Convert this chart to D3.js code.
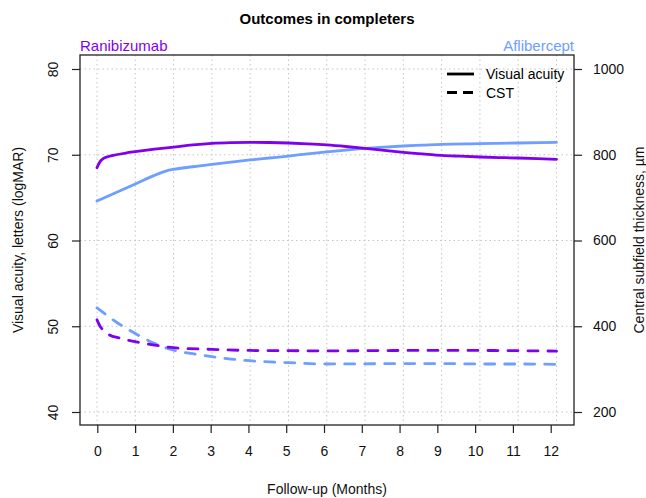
<!DOCTYPE html>
<html><head><meta charset="utf-8">
<script src="https://cdn.jsdelivr.net/npm/d3@7"></script>
<style>
body{margin:0;background:#fff;}
svg{display:block;font-family:"Liberation Sans",Arial,sans-serif;}
</style></head>
<body><svg id="c" width="646" height="498"></svg>
<script>
// ---- data ----
const monthTicks = [0,1,2,3,4,5,6,7,8,9,10,11,12];
const vaTicks = [40,50,60,70,80];
const cstTicks = [200,400,600,800,1000];

const ranVAMonths = [0,0.08,0.16,0.3,0.5,0.75,1,1.5,2,2.5,3,3.5,4,4.5,5,5.5,6,6.5,7,7.5,8,8.5,9,9.5,10,10.5,11,11.5,12];
const ranVA = [68.5,69.2,69.55,69.8,70.0,70.2,70.36,70.65,70.9,71.15,71.33,71.42,71.45,71.43,71.37,71.27,71.14,70.96,70.75,70.5,70.28,70.1,69.93,69.83,69.74,69.67,69.62,69.55,69.47];

const aflVAMonths = [0,0.5,1,1.5,1.8,2,2.5,3,3.5,4,4.5,5,5.5,6,6.5,7,7.5,8,8.5,9,10,11,12];
const aflVA = [64.6,65.6,66.6,67.6,68.1,68.3,68.6,68.89,69.15,69.39,69.62,69.85,70.1,70.33,70.55,70.75,70.9,71.02,71.12,71.22,71.29,71.37,71.45];

const ranCSTMonths = [0,0.08,0.16,0.3,0.6,1,1.5,2,3,4,5,6,7,8,9,10,11,12];
const ranCST = [415,400,391,381,372,364,356,350,346,343.5,343,342.6,343,343.5,343.5,343.5,343,342];

const aflCSTMonths = [0,0.5,1,1.5,2,2.5,3,3.5,4,5,6,7,8,9,10,11,12];
const aflCST = [443,410,383,360,344,336,329,323.5,319.6,315,312,312.4,313,313,312,312,311];

const colRan = "#7F00F0";
const colAfl = "#6E9EFF";

// ---- layout ----
const svg = d3.select("#c");
const L = 80, R = 574, T = 55, B = 425;

const xTick = d3.scaleLinear().domain([0,12]).range([97.3,550.7]);
const xData = d3.scaleLinear().domain([0,12]).range([97,556.5]);
const yL = d3.scaleLinear().domain([40,80]).range([412,69]);
const yR = d3.scaleLinear().domain([200,1000]).range([412,69]);

// grid
const grid = svg.append("g").attr("stroke","#c4c4c4").attr("stroke-width",1).attr("stroke-dasharray","1.5,3");
grid.selectAll("line.v").data(monthTicks).join("line").attr("class","v")
  .attr("x1",d=>xData(d)).attr("x2",d=>xData(d)).attr("y1",T).attr("y2",B);
grid.selectAll("line.h").data(vaTicks).join("line").attr("class","h")
  .attr("x1",L).attr("x2",R).attr("y1",d=>yL(d)).attr("y2",d=>yL(d));

// lines
const lineVA = (ms) => d3.line().x((d,i)=>xData(ms[i])).y(d=>yL(d)).curve(d3.curveMonotoneX);
const lineCST = (ms) => d3.line().x((d,i)=>xData(ms[i])).y(d=>yR(d)).curve(d3.curveMonotoneX);
const lg = svg.append("g").attr("fill","none").attr("stroke-width",2.8).attr("stroke-linecap","round").attr("stroke-linejoin","round");
lg.append("path").attr("d",lineVA(aflVAMonths)(aflVA)).attr("stroke",colAfl);
lg.append("path").attr("d",lineVA(ranVAMonths)(ranVA)).attr("stroke",colRan);
lg.append("path").attr("d",lineCST(aflCSTMonths)(aflCST)).attr("stroke",colAfl).attr("stroke-dasharray","10,10");
lg.append("path").attr("d",lineCST(ranCSTMonths)(ranCST)).attr("stroke",colRan).attr("stroke-dasharray","10,10");

// box
svg.append("rect").attr("x",L).attr("y",T).attr("width",R-L).attr("height",B-T)
  .attr("fill","none").attr("stroke","#222").attr("stroke-width",1.3);

// axes
const fs = 14;
const ax = svg.append("g").attr("transform",`translate(0,${B})`)
  .call(d3.axisBottom(xTick).tickValues(monthTicks).tickSize(8).tickPadding(13).tickFormat(d3.format("d")));
const ay = svg.append("g").attr("transform",`translate(${L},0)`)
  .call(d3.axisLeft(yL).tickValues(vaTicks).tickSize(8).tickFormat(d3.format("d")));
const ar = svg.append("g").attr("transform",`translate(${R},0)`)
  .call(d3.axisRight(yR).tickValues(cstTicks).tickSize(8).tickPadding(11).tickFormat(d3.format("d")));
[ax,ay,ar].forEach(g=>{
  g.select(".domain").remove();
  g.selectAll(".tick line").attr("stroke","#222").attr("stroke-width",1.2);
  g.selectAll("text").attr("font-size",fs).attr("font-family","Liberation Sans, Arial, sans-serif").attr("fill","#111");
});
ay.selectAll(".tick text").attr("transform","rotate(-90)").attr("x",0).attr("y",-27.5)
  .attr("dy",null).attr("dominant-baseline","central").attr("text-anchor","middle");

// titles
svg.append("text").attr("x",(L+R)/2).attr("y",24).attr("text-anchor","middle")
  .attr("font-size",15).attr("font-weight","bold").attr("fill","#000").text("Outcomes in completers");
svg.append("text").attr("x",L).attr("y",51).attr("font-size",15).attr("fill",colRan).text("Ranibizumab");
svg.append("text").attr("x",R).attr("y",51).attr("text-anchor","end").attr("font-size",15).attr("fill",colAfl).text("Aflibercept");
svg.append("text").attr("x",(L+R)/2).attr("y",494).attr("text-anchor","middle").attr("font-size",fs).attr("fill","#111").text("Follow-up (Months)");
svg.append("text").attr("transform",`translate(18,${(T+B)/2}) rotate(-90)`).attr("text-anchor","middle")
  .attr("dominant-baseline","central").attr("font-size",fs).attr("fill","#111").text("Visual acuity, letters (logMAR)");
svg.append("text").attr("transform",`translate(639,${(T+B)/2}) rotate(-90)`).attr("text-anchor","middle")
  .attr("dominant-baseline","central").attr("font-size",fs).attr("fill","#111").text("Central subfield thickness, µm");

// legend
const legendItems = ["Visual acuity","CST"];
const legendDash = [null,"10,6"];
const leg = svg.append("g");
legendItems.forEach((t,i)=>{
  const y = 74 + i*18.5;
  leg.append("line").attr("x1",447).attr("x2",474).attr("y1",y).attr("y2",y)
    .attr("stroke","#000").attr("stroke-width",2.8).attr("stroke-dasharray",legendDash[i]);
  leg.append("text").attr("x",486).attr("y",y).attr("dominant-baseline","central")
    .attr("font-size",fs).attr("fill","#000").text(t);
});
</script></body></html>
